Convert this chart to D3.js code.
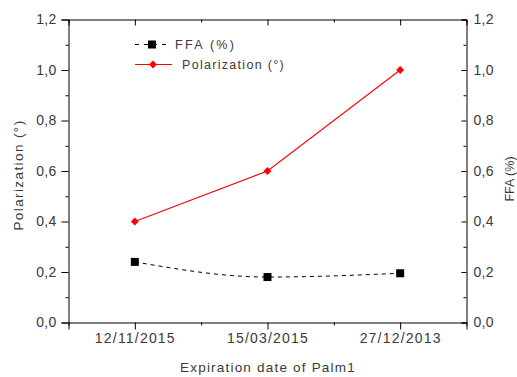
<!DOCTYPE html>
<html>
<head>
<meta charset="utf-8">
<script src="https://cdn.jsdelivr.net/npm/d3@7"></script>
<style>
  html, body { margin: 0; padding: 0; background: #fff; }
  svg, svg text { font-family: "Liberation Sans", Arial, sans-serif; }
  svg { display: block; }
  .tick text { fill: #3a3a3a; font-size: 14px; letter-spacing: 0.3px; }
</style>
</head>
<body>
<svg id="chart" width="517" height="377"></svg>
<script>
// Expiration dates of the Palm1 samples
const dates = ["12/11/2015", "15/03/2015", "27/12/2013"];
// Polarization (°) per sample
const polarization = [0.40, 0.60, 1.00];
// Free fatty acids FFA (%) per sample
const ffa = [0.24, 0.18, 0.195];
// Shared tick values for both y axes
const yTicks = [0, 0.2, 0.4, 0.6, 0.8, 1.0, 1.2];
const yMinorTicks = [0.1, 0.3, 0.5, 0.7, 0.9, 1.1];

const svg = d3.select("#chart");
const m = { left: 68.5, right: 466.5, top: 19.5, bottom: 322.5 };

const x = d3.scaleLinear().domain([0.5, 3.5]).range([m.left, m.right]);
const yL = d3.scaleLinear().domain([0, 1.2]).range([m.bottom, m.top]);
const yR = d3.scaleLinear().domain([0, 1.2]).range([m.bottom, m.top]);
const fmt = d => d3.format(".1f")(d).replace(".", ",");

const catIdx = dates.map((d, i) => i + 1);
const minorX = [0.5, 1.5, 2.5, 3.5];

// Bottom axis
svg.append("g").attr("transform", `translate(0,${m.bottom})`)
  .call(d3.axisBottom(x).tickValues(catIdx).tickFormat(i => dates[i - 1]).tickSizeOuter(0).tickSize(7).tickPadding(4))
  .call(g => g.select(".domain").attr("stroke", "#000"))
  .call(g => g.selectAll(".tick text").style("letter-spacing", "1.2px"));
svg.append("g").attr("transform", `translate(0,${m.bottom})`)
  .call(d3.axisBottom(x).tickValues(minorX).tickFormat("").tickSizeOuter(0).tickSize(3))
  .call(g => g.select(".domain").remove());

// Top axis (inward ticks)
svg.append("g").attr("transform", `translate(0,${m.top})`)
  .call(d3.axisBottom(x).tickValues(catIdx).tickFormat("").tickSizeOuter(0).tickSize(6))
  .call(g => g.select(".domain").attr("stroke", "#000"));
svg.append("g").attr("transform", `translate(0,${m.top})`)
  .call(d3.axisBottom(x).tickValues(minorX).tickFormat("").tickSizeOuter(0).tickSize(3))
  .call(g => g.select(".domain").remove());

// Left axis (outward ticks)
svg.append("g").attr("transform", `translate(${m.left},0)`)
  .call(d3.axisLeft(yL).tickValues(yTicks).tickFormat(fmt).tickSizeOuter(0).tickSize(7).tickPadding(5))
  .call(g => g.select(".domain").attr("stroke", "#000"));
svg.append("g").attr("transform", `translate(${m.left},0)`)
  .call(d3.axisLeft(yL).tickValues(yMinorTicks).tickFormat("").tickSizeOuter(0).tickSize(3))
  .call(g => g.select(".domain").remove());

// Right axis (inward ticks, labels outside)
const rAxis = svg.append("g").attr("transform", `translate(${m.right},0)`)
  .call(d3.axisLeft(yR).tickValues(yTicks).tickFormat(fmt).tickSizeOuter(0).tickSize(5))
  .call(g => g.select(".domain").attr("stroke", "#000"));
rAxis.selectAll(".tick text").attr("x", 7).attr("text-anchor", "start");
svg.append("g").attr("transform", `translate(${m.right},0)`)
  .call(d3.axisLeft(yR).tickValues(yMinorTicks).tickFormat("").tickSizeOuter(0).tickSize(3))
  .call(g => g.select(".domain").remove());

svg.selectAll(".tick line").attr("stroke", "#000");

// Axis titles
svg.append("text").attr("x", 268).attr("y", 372).attr("text-anchor", "middle")
  .attr("font-size", 13.5).attr("fill", "#3a3a3a").attr("letter-spacing", 1.2)
  .text("Expiration date of  Palm1");
svg.append("text").attr("transform", "translate(23,175) rotate(-90)").attr("text-anchor", "middle")
  .attr("font-size", 13.5).attr("fill", "#3a3a3a").attr("letter-spacing", 1.4).text("Polarization (°)");
svg.append("text").attr("transform", "translate(514,179) rotate(-90)").attr("text-anchor", "middle")
  .attr("font-size", 12.5).attr("fill", "#3a3a3a").text("FFA (%)");

// FFA series: dashed smooth line with square markers
const ffaLine = d3.line().x((d, i) => x(i + 1)).y(d => yR(d)).curve(d3.curveMonotoneX);
svg.append("path").datum(ffa).attr("d", ffaLine)
  .attr("fill", "none").attr("stroke", "#000").attr("stroke-width", 1).attr("stroke-dasharray", "4,4");
svg.selectAll(".ffa-pt").data(ffa).enter().append("rect")
  .attr("x", (d, i) => x(i + 1) - 4).attr("y", d => yR(d) - 4)
  .attr("width", 8).attr("height", 8).attr("fill", "#000");

// Polarization series: solid red line with diamond markers
const polLine = d3.line().x((d, i) => x(i + 1)).y(d => yL(d));
svg.append("path").datum(polarization).attr("d", polLine)
  .attr("fill", "none").attr("stroke", "#f00").attr("stroke-width", 1.1);
const diamond = d3.symbol().type(d3.symbolDiamond2).size(40);
svg.selectAll(".pol-pt").data(polarization).enter().append("path")
  .attr("transform", (d, i) => `translate(${x(i + 1)},${yL(d)})`)
  .attr("d", diamond).attr("fill", "#f00");

// Legend
const lg = svg.append("g");
lg.append("line").attr("x1", 135).attr("x2", 171).attr("y1", 44.5).attr("y2", 44.5)
  .attr("stroke", "#000").attr("stroke-dasharray", "4,5");
lg.append("rect").attr("x", 148).attr("y", 40.5).attr("width", 8).attr("height", 8).attr("fill", "#000");
lg.append("text").attr("x", 175).attr("y", 49).attr("font-size", 12.5).attr("fill", "#3a3a3a")
  .attr("letter-spacing", 2.3).text("FFA (%)");
lg.append("line").attr("x1", 135).attr("x2", 172).attr("y1", 64.5).attr("y2", 64.5)
  .attr("stroke", "#f00").attr("stroke-width", 1.1);
lg.append("path").attr("transform", "translate(153,64.5)").attr("d", diamond).attr("fill", "#f00");
lg.append("text").attr("x", 182).attr("y", 69).attr("font-size", 12.5).attr("fill", "#3a3a3a")
  .attr("letter-spacing", 1.3).text("Polarization (°)");
</script>
</body>
</html>
